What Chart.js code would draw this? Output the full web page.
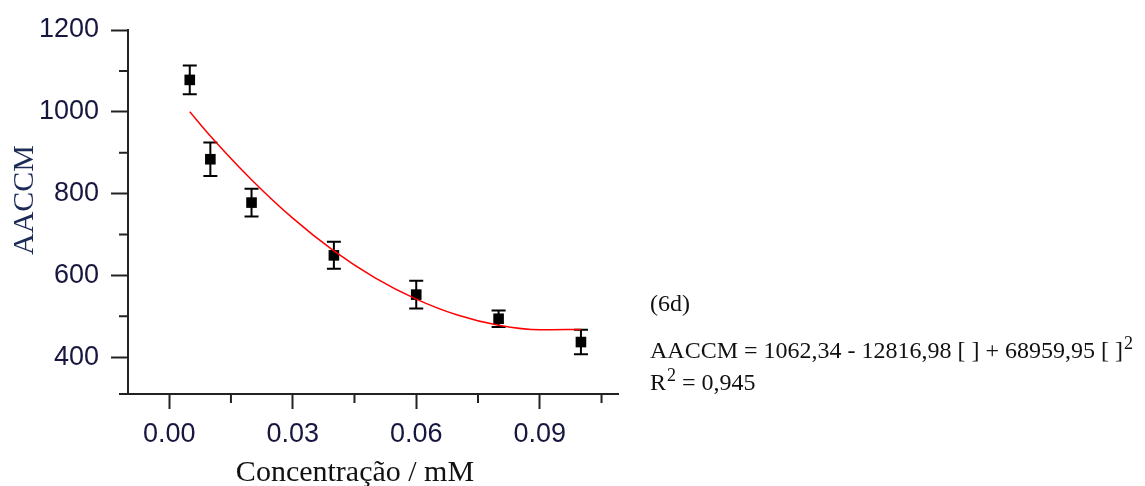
<!DOCTYPE html>
<html>
<head>
<meta charset="utf-8">
<script src="https://cdn.jsdelivr.net/npm/chart.js@4"></script>
<style>
  body { margin: 0; background: #fff; }
  canvas { display: block; }
</style>
</head>
<body>
<canvas id="aaccmChart" width="1145" height="486"></canvas>
<script>
// pontos medidos (concentração em mM) e desvios
const concentrations = [0.005, 0.01, 0.02, 0.04, 0.06, 0.08, 0.10];
const aaccmValues = [1078, 884, 778, 649, 553, 494, 437];
const aaccmErrors = [35, 41, 34, 33, 34, 20, 30];

// curva de ajuste
const fitX = [0.005, 0.01, 0.02, 0.03, 0.04, 0.05, 0.06, 0.07, 0.08, 0.09, 0.10];
const fitY = [1000, 941, 834, 740, 660, 594, 542, 503, 478, 467, 468];

const xTicks = [0.00, 0.03, 0.06, 0.09];
const xMinorTicks = [0.015, 0.045, 0.075, 0.105];
const yTicks = [400, 600, 800, 1000, 1200];
const yMinorTicks = [500, 700, 900, 1100];

const tickColor = '#16163e';
const axisColor = '#222';

function drawErrorBars(chart) {
    let ctx = chart.ctx;
    let xs = chart.scales.x, ys = chart.scales.y;
    ctx.save();
    ctx.strokeStyle = '#000';
    ctx.lineWidth = 2;
    for (let i = 0; i < concentrations.length; i++) {
        let px = xs.getPixelForValue(concentrations[i]);
        let top = ys.getPixelForValue(aaccmValues[i] + aaccmErrors[i]);
        let bottom = ys.getPixelForValue(aaccmValues[i] - aaccmErrors[i]);
        ctx.beginPath();
        ctx.moveTo(px, top); ctx.lineTo(px, bottom);
        ctx.moveTo(px - 7, top); ctx.lineTo(px + 7, top);
        ctx.moveTo(px - 7, bottom); ctx.lineTo(px + 7, bottom);
        ctx.stroke();
    }
    ctx.restore();
}

function drawSup(ctx, base, sup, x, y, size) {
    ctx.font = size + 'px "Liberation Serif"';
    ctx.fillText(base, x, y);
    let w = ctx.measureText(base).width;
    ctx.font = Math.round(size * 0.75) + 'px "Liberation Serif"';
    ctx.fillText(sup, x + w + 1, y - size * 0.36);
    return x + w + 1 + ctx.measureText(sup).width;
}

const extras = {
    id: 'extras',
    beforeDatasetsDraw(chart) {
        drawErrorBars(chart);
    },
    afterDraw(chart) {
        let ctx = chart.ctx;
        let area = chart.chartArea;
        let xs = chart.scales.x, ys = chart.scales.y;
        ctx.save();
        ctx.strokeStyle = axisColor;
        ctx.lineWidth = 2;
        ctx.beginPath();
        // minor ticks
        xMinorTicks.forEach(v => {
            let px = xs.getPixelForValue(v);
            ctx.moveTo(px, area.bottom); ctx.lineTo(px, area.bottom + 9);
        });
        yMinorTicks.forEach(v => {
            let py = ys.getPixelForValue(v);
            ctx.moveTo(area.left - 9, py); ctx.lineTo(area.left, py);
        });
        // x axis runs a bit past the y axis
        ctx.moveTo(area.left - 9, area.bottom); ctx.lineTo(area.left, area.bottom);
        ctx.stroke();

        // axis titles
        ctx.fillStyle = '#111';
        ctx.textAlign = 'center';
        ctx.textBaseline = 'alphabetic';
        ctx.font = '30px "Liberation Serif"';
        ctx.fillText('Concentração / mM', 355, 481);
        ctx.save();
        ctx.translate(33, 200);
        ctx.rotate(-Math.PI / 2);
        ctx.fillStyle = '#1c2b55';
        ctx.fillText('AACCM', 0, 0);
        ctx.restore();

        // equation text
        ctx.textAlign = 'left';
        ctx.fillStyle = '#111';
        ctx.font = '24px "Liberation Serif"';
        ctx.fillText('(6d)', 650, 311);
        drawSup(ctx, 'AACCM = 1062,34 - 12816,98 [ ] + 68959,95 [ ]', '2', 650, 358, 24);
        let x2 = drawSup(ctx, 'R', '2', 650, 390, 24);
        ctx.font = '24px "Liberation Serif"';
        ctx.fillText(' = 0,945', x2, 390);
        ctx.restore();
    }
};

let ctx = document.getElementById('aaccmChart').getContext('2d');

let chart = new Chart(ctx, {
    type: 'scatter',
    data: {
        datasets: [{
            label: 'Ajuste',
            data: fitX.map((x, i) => ({ x: x, y: fitY[i] })),
            showLine: true,
            borderColor: '#ff0000',
            borderWidth: 1.5,
            pointRadius: 0,
            cubicInterpolationMode: 'monotone',
            fill: false
        }, {
            label: 'AACCM',
            data: concentrations.map((x, i) => ({ x: x, y: aaccmValues[i] })),
            pointStyle: 'rect',
            pointRadius: 7.5,
            backgroundColor: '#000',
            borderColor: '#000',
            borderWidth: 0
        }]
    },
    options: {
        responsive: false,
        animation: false,
        layout: {
            padding: { top: 30, right: 527, left: 0, bottom: 0 }
        },
        plugins: {
            legend: { display: false },
            tooltip: { enabled: false }
        },
        scales: {
            x: {
                type: 'linear',
                min: -0.01,
                max: 0.109,
                afterBuildTicks: s => { s.ticks = xTicks.map(v => ({ value: v })); },
                afterFit: s => { s.height = 92; },
                ticks: {
                    callback: v => v.toFixed(2),
                    font: { family: 'Liberation Sans', size: 27 },
                    color: tickColor,
                    padding: 9,
                    maxRotation: 0,
                    autoSkip: false
                },
                grid: {
                    drawOnChartArea: false,
                    tickLength: 15,
                    tickWidth: 2,
                    tickColor: axisColor
                },
                border: { color: axisColor, width: 2 }
            },
            y: {
                min: 310,
                max: 1200,
                afterBuildTicks: s => { s.ticks = yTicks.map(v => ({ value: v })); },
                afterFit: s => { s.width = 128; },
                ticks: {
                    callback: v => String(v),
                    font: { family: 'Liberation Sans', size: 27 },
                    color: tickColor,
                    padding: 12
                },
                grid: {
                    drawOnChartArea: false,
                    tickLength: 17,
                    tickWidth: 2,
                    tickColor: axisColor
                },
                border: { color: axisColor, width: 2 }
            }
        }
    },
    plugins: [extras]
});
</script>
</body>
</html>
